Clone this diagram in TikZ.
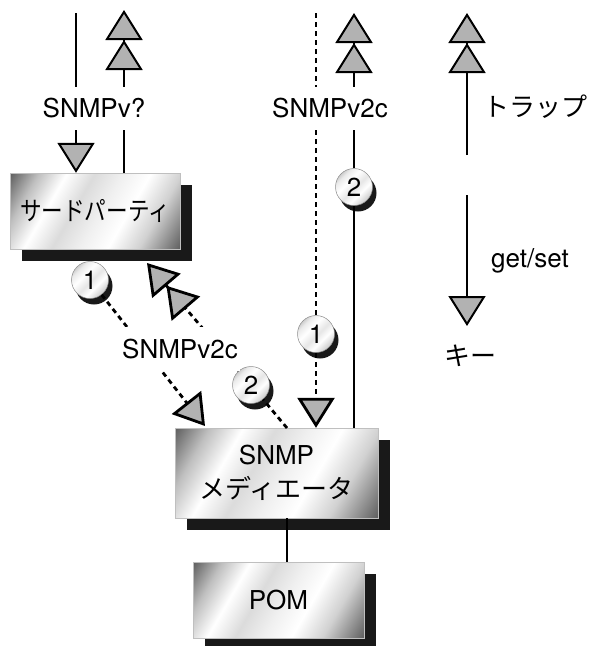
\documentclass[tikz,border=0pt]{standalone}
\usepackage{fontspec}
\setmainfont{TeX Gyre Heros}
\newfontfamily\jp{Noto Sans CJK JP}
\newfontfamily\jpnarrow{Noto Sans CJK JP}[FakeStretch=0.83]
\usetikzlibrary{arrows.meta,shadows}

\pgfdeclarehorizontalshading{metal}{100bp}{color(0bp)=(black!70); color(16bp)=(black!62); color(25bp)=(black!25); color(34bp)=(white); color(43bp)=(black!14); color(52bp)=(black!6); color(61bp)=(white); color(71bp)=(black!18); color(84bp)=(black!62); color(100bp)=(black!70)}
\pgfdeclarehorizontalshading{coin}{100bp}{color(0bp)=(black!45); color(18bp)=(black!35); color(30bp)=(black!8); color(40bp)=(white); color(52bp)=(black!10); color(62bp)=(white); color(76bp)=(black!22); color(100bp)=(black!50)}

\tikzset{
	grayhead/.tip={Triangle[length=30pt, width=37pt, fill=black!30, sep=0pt]},
	wire/.style={line width=2pt},
	dotwire/.style={line width=2.8pt, dash pattern=on 5pt off 4pt},
	metalbox/.style={shading=metal, shading angle=-30, draw=black!25, line width=0.4pt, inner sep=0pt,
		font=\fontsize{26pt}{34pt}\selectfont, align=center,
		general shadow={fill=black!90, shadow xshift=12pt, shadow yshift=-12pt}},
	stepdisc/.style={circle, minimum size=37pt, inner sep=0pt, shading=coin, shading angle=-45,
		draw=black!45, line width=0.5pt, font=\fontsize{26pt}{26pt}\selectfont,
		general shadow={fill=black!90, shadow xshift=4pt, shadow yshift=-6pt}},
	proto/.style={fill=white, inner xsep=2pt, minimum height=43pt, font=\fontsize{26pt}{30pt}\selectfont},
	legend/.style={font=\fontsize{26pt}{30pt}\selectfont}
}

\begin{document}
\begin{tikzpicture}[x=1pt, y=-1pt]
	\useasboundingbox (0,0) rectangle (589,646);
	% boxes
	\node[metalbox, minimum width=170pt, minimum height=76pt] (party) at (95,211) {\jpnarrow サードパーティ};
	\node[metalbox, minimum width=203pt, minimum height=90pt] (mediator) at (276.5,473) {SNMP\\{\jp メディエータ}};
	\node[metalbox, minimum width=171pt, minimum height=76pt] (pom) at (278.5,600) {POM};
	% numbered steps
	\node[stepdisc] (oneL) at (90,280) {1};
	\node[stepdisc] (twoL) at (251,385) {2};
	\node[stepdisc] (oneR) at (316,334) {1};
	\node[stepdisc] (twoR) at (354,187) {2};
	% free ends
	\coordinate (leftIn) at (76,13);
	\coordinate (leftOut) at (124,10);
	\coordinate (midIn) at (316,13);
	\coordinate (midOut) at (354,13);
	\coordinate (aEnd) at (205,426);
	\coordinate (bStart) at (287,428);
	\coordinate (bEnd) at (147,263);
	\coordinate (trapFoot) at (467,155);
	\coordinate (trapHead) at (467,13);
	\coordinate (getFoot) at (467,195);
	\coordinate (getHead) at (467,326);
	% left column
	\draw[wire, -{grayhead[]}] (leftIn) -- (leftIn |- party.north);
	\draw[wire, -{grayhead[]grayhead[]}] (leftOut |- party.north) -- (leftOut);
	% middle column
	\draw[dotwire] (midIn) -- (oneR);
	\draw[dotwire, -{grayhead[]}] (oneR) -- (midIn |- mediator.north);
	\draw[wire] (midOut |- mediator.north) -- (twoR);
	\draw[wire, -{grayhead[]grayhead[]}] (twoR) -- (midOut);
	% between third party and mediator
	\draw[dotwire, -{grayhead[]}] (oneL) -- (aEnd);
	\draw[dotwire] (bStart) -- (twoL);
	\draw[dotwire, -{grayhead[]grayhead[]}] (twoL) -- (bEnd);
	\draw[wire] (mediator.south -| bStart) -- (pom.north -| bStart);
	% legend
	\draw[wire, -{grayhead[]grayhead[]}] (trapFoot) -- (trapHead);
	\draw[wire, -{grayhead[]}] (getFoot) -- (getHead);
	\node[legend] (trapText) at (535,107) {\jp トラップ};
	\node[legend] (getText) at (530,261) {get/set};
	\node[legend] (keyText) at (470,356) {\jp キー};
	% protocol labels
	\node[proto] (leftProto) at (94,108) {SNMPv?};
	\node[proto] (midProto) at (330,108) {SNMPv2c};
	\node[proto, minimum height=44pt] (diagProto) at (180,349) {SNMPv2c};
\end{tikzpicture}
\end{document}
